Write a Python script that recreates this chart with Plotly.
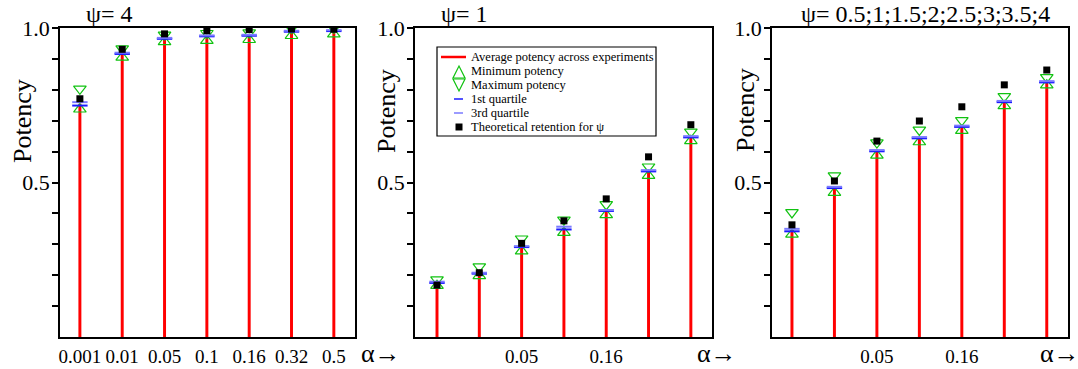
import plotly.graph_objects as go

W, H = 1078, 369

alphas = ["0.001", "0.01", "0.05", "0.1", "0.16", "0.32", "0.5"]
titles = ["ψ= 4", "ψ= 1", "ψ= 0.5;1;1.5;2;2.5;3;3.5;4"]
x_tick_labels = [alphas, ["0.05", "0.16"], ["0.05", "0.16"]]
y_tick_vals = [0.1, 0.2, 0.3, 0.4, 0.5, 0.6, 0.7, 0.8, 0.9, 1.0]
y_tick_text = ["", "", "", "", "0.5", "", "", "", "", "1.0"]

# psi = 4
avg_psi4 = [0.755, 0.918, 0.967, 0.975, 0.977, 0.990, 0.992]
min_psi4 = [0.737, 0.905, 0.955, 0.959, 0.962, 0.975, 0.980]
max_psi4 = [0.803, 0.933, 0.978, 0.983, 0.985, 0.999, 1.000]
q1_psi4 = [0.749, 0.916, 0.965, 0.973, 0.975, 0.988, 0.990]
q3_psi4 = [0.760, 0.920, 0.968, 0.976, 0.978, 0.991, 0.993]
theo_psi4 = [0.771, 0.931, 0.981, 0.991, 0.995, 0.997, 0.996]

# psi = 1
avg_psi1 = [0.177, 0.207, 0.293, 0.352, 0.410, 0.538, 0.648]
min_psi1 = [0.166, 0.198, 0.278, 0.338, 0.395, 0.522, 0.635]
max_psi1 = [0.186, 0.228, 0.318, 0.379, 0.429, 0.551, 0.664]
q1_psi1 = [0.175, 0.205, 0.291, 0.348, 0.408, 0.536, 0.646]
q3_psi1 = [0.179, 0.208, 0.294, 0.357, 0.411, 0.540, 0.650]
theo_psi1 = [0.168, 0.208, 0.303, 0.376, 0.447, 0.583, 0.687]

# psi = 0.5 ... 4
avg_mix = [0.346, 0.484, 0.603, 0.645, 0.682, 0.762, 0.826]
min_mix = [0.332, 0.467, 0.588, 0.631, 0.668, 0.748, 0.815]
max_mix = [0.403, 0.522, 0.629, 0.670, 0.701, 0.779, 0.840]
q1_mix = [0.342, 0.482, 0.601, 0.643, 0.680, 0.760, 0.824]
q3_mix = [0.350, 0.486, 0.605, 0.647, 0.684, 0.764, 0.828]
theo_mix = [0.363, 0.505, 0.634, 0.699, 0.745, 0.816, 0.864]

panels = [
    (avg_psi4, min_psi4, max_psi4, q1_psi4, q3_psi4, theo_psi4),
    (avg_psi1, min_psi1, max_psi1, q1_psi1, q3_psi1, theo_psi1),
    (avg_mix, min_mix, max_mix, q1_mix, q3_mix, theo_mix),
]

FONT = "Liberation Serif, Times New Roman, serif"
RED = "#ff0000"
GREEN = "#11c211"
BLUE1 = "#1a1aff"
BLUE3 = "#7a7aff"

# pixel layout of the three plot areas
x_px = [(60, 355), (415, 712), (772, 1068)]
x_ranges = [[-0.47, 6.5], [-0.52, 6.5], [-0.47, 6.5]]
y_top, y_bot = 28, 337


def px(x):
    return x / W


def py(y):
    return 1 - y / H


fig = go.Figure()
layout = dict(
    width=W, height=H,
    margin=dict(l=0, r=0, t=0, b=0, autoexpand=False),
    paper_bgcolor="white", plot_bgcolor="white",
    showlegend=False, barmode="overlay",
    font=dict(family=FONT, color="black"),
)

for i, (avg, mn, mx, q1, q3, th) in enumerate(panels):
    n = "" if i == 0 else str(i + 1)
    xa, ya = "x" + n, "y" + n
    fig.add_trace(go.Bar(x=alphas, y=avg, width=0.07, marker=dict(color=RED, line=dict(width=0)),
                         xaxis=xa, yaxis=ya, name="Average potency across experiments"))
    fig.add_trace(go.Scatter(x=alphas, y=mn, mode="markers", xaxis=xa, yaxis=ya, name="Minimum potency",
                             marker=dict(symbol="triangle-up-open", size=11, color=GREEN, line=dict(width=1.2, color=GREEN))))
    fig.add_trace(go.Scatter(x=alphas, y=mx, mode="markers", xaxis=xa, yaxis=ya, name="Maximum potency",
                             marker=dict(symbol="triangle-down-open", size=11, color=GREEN, line=dict(width=1.2, color=GREEN))))
    fig.add_trace(go.Scatter(x=alphas, y=q1, mode="markers", xaxis=xa, yaxis=ya, name="1st quartile",
                             marker=dict(symbol="line-ew", size=11, line=dict(width=2, color=BLUE1))))
    fig.add_trace(go.Scatter(x=alphas, y=q3, mode="markers", xaxis=xa, yaxis=ya, name="3rd quartile",
                             marker=dict(symbol="line-ew", size=11, line=dict(width=2, color=BLUE3))))
    fig.add_trace(go.Scatter(x=alphas, y=th, mode="markers", xaxis=xa, yaxis=ya, name="Theoretical retention for ψ",
                             marker=dict(symbol="square", size=7, color="black")))

    layout["xaxis" + n] = dict(
        domain=[px(x_px[i][0]), px(x_px[i][1])], anchor=ya, automargin=False,
        type="category", categoryorder="array", categoryarray=alphas,
        range=x_ranges[i], tickvals=x_tick_labels[i], ticktext=x_tick_labels[i],
        ticks="", showgrid=False, zeroline=False,
        showline=True, mirror=True, linecolor="black", linewidth=1.5,
        tickfont=dict(family=FONT, size=19, color="black"), ticklabelstandoff=1,
    )
    layout["yaxis" + n] = dict(
        domain=[py(y_bot), py(y_top)], anchor=xa, automargin=False,
        range=[0, 1], tickvals=y_tick_vals, ticktext=y_tick_text,
        ticks="outside", ticklen=6, tickwidth=1.5, tickcolor="black",
        showgrid=False, zeroline=False,
        showline=True, mirror=True, linecolor="black", linewidth=1.5,
        tickfont=dict(family=FONT, size=22, color="black"), ticklabelstandoff=-2,
    )

annotations = []
title_x = [109, 464, 925]
potency_pos = [(22, 121), (387, 111), (745, 110)]
for i in range(3):
    annotations.append(dict(text=titles[i], x=px(title_x[i]), y=py(14), xref="paper", yref="paper",
                            xanchor="center", yanchor="middle", showarrow=False,
                            font=dict(family=FONT, size=24, color="black")))
    annotations.append(dict(text="Potency", x=px(potency_pos[i][0]), y=py(potency_pos[i][1]),
                            xref="paper", yref="paper", textangle=-90,
                            xanchor="center", yanchor="middle", showarrow=False,
                            font=dict(family=FONT, size=26, color="black")))
alpha_x = [359, 695, 1038]
for ax in alpha_x:
    annotations.append(dict(text="α→", x=px(ax), y=py(353), xref="paper", yref="paper",
                            xanchor="left", yanchor="middle", showarrow=False,
                            font=dict(family=FONT, size=26, color="black")))

# manual legend in panel 2
legend_labels = ["Average potency across experiments", "Minimum potency", "Maximum potency",
                 "1st quartile", "3rd quartile", "Theoretical retention for ψ"]
legend_y = [57, 71, 85, 99, 113, 127]
for lab, ly in zip(legend_labels, legend_y):
    annotations.append(dict(text=lab, x=px(469), y=py(ly), xref="paper", yref="paper",
                            xanchor="left", yanchor="middle", showarrow=False,
                            font=dict(family=FONT, size=12.5, color="black")))

shapes = [
    dict(type="rect", xref="paper", yref="paper", x0=px(437), x1=px(656), y0=py(136), y1=py(47),
         line=dict(color="black", width=1.2), fillcolor="white", layer="below"),
    dict(type="line", xref="paper", yref="paper", x0=px(441), x1=px(466), y0=py(57), y1=py(57),
         line=dict(color=RED, width=2.5)),
    dict(type="path", xref="paper", yref="paper", xsizemode="pixel", ysizemode="pixel",
         xanchor=px(459), yanchor=py(72), path="M -6,-6 L 6,-6 L 0,6 Z",
         line=dict(color=GREEN, width=1.2)),
    dict(type="path", xref="paper", yref="paper", xsizemode="pixel", ysizemode="pixel",
         xanchor=px(459), yanchor=py(85), path="M -6,6 L 6,6 L 0,-6 Z",
         line=dict(color=GREEN, width=1.2)),
    dict(type="line", xref="paper", yref="paper", x0=px(454), x1=px(463), y0=py(99), y1=py(99),
         line=dict(color=BLUE1, width=1.5)),
    dict(type="line", xref="paper", yref="paper", x0=px(454), x1=px(463), y0=py(113), y1=py(113),
         line=dict(color=BLUE3, width=1.5)),
    dict(type="rect", xref="paper", yref="paper", x0=px(455.5), x1=px(462.5), y0=py(130.5), y1=py(123.5),
         line=dict(width=0), fillcolor="black"),
]

layout["annotations"] = annotations
layout["shapes"] = shapes
fig.update_layout(**layout)
fig.write_html("out.html", config={"displayModeBar": False},
               post_script="document.body.style.margin='0';document.body.style.overflow='hidden';")
